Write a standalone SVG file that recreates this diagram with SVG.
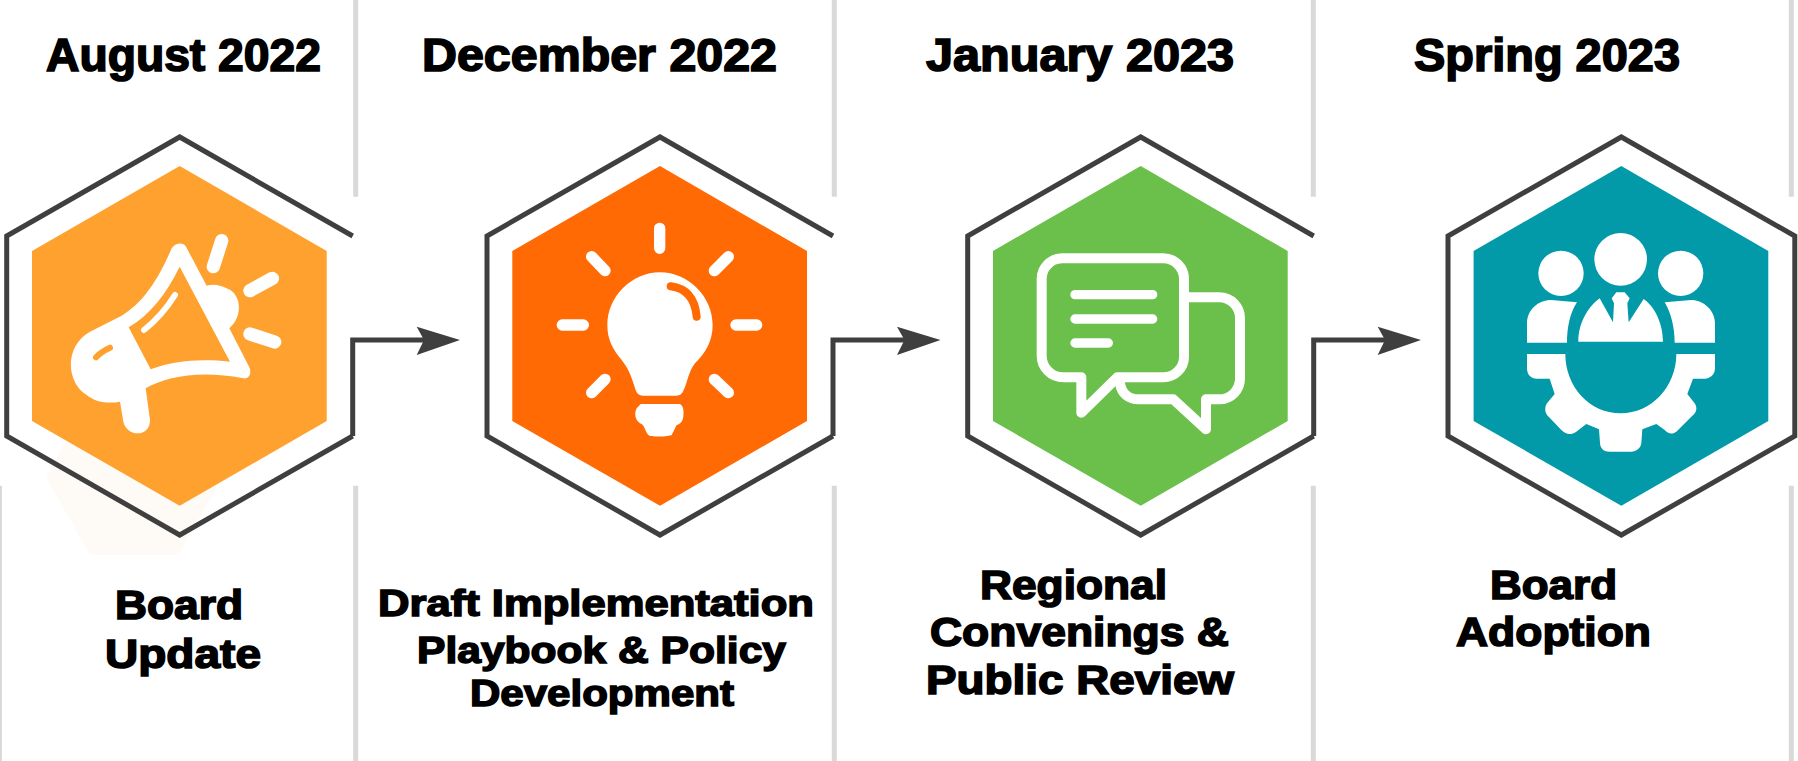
<svg xmlns="http://www.w3.org/2000/svg" width="1798" height="761" viewBox="0 0 1798 761">
<style>
.bg{fill:#fff}
.div{stroke:#d9d9d9;stroke-width:5;fill:none}
.out{stroke:#3f3f3f;stroke-width:5;fill:none;stroke-linejoin:miter}
.con{stroke:#3f3f3f;stroke-width:5;fill:none}
.head{fill:#3f3f3f}
text{font-family:"Liberation Sans",Arial,sans-serif;font-weight:700;fill:#000;stroke:#000}
.h{font-size:47px;stroke-width:1.7}
.b{font-size:41px;stroke-width:1.6}
.c{font-size:37px;stroke-width:1.5}
.w{fill:#fff}
.wl{stroke:#fff;fill:none;stroke-linecap:round;stroke-linejoin:round}
</style>
<defs>
<polygon id="inner" points="0,166 147,251 147,421 0,505.7 -147.7,421 -147.7,251"/>
<path id="open" d="M173,236 L0,137 L-173,236 V436 L0,535 L173,436"/>
</defs>
<rect class="bg" width="1798" height="761"/>
<g id="dividers">
<path class="div" d="M355.7 0V196.7M355.7 485.7V761M834.3 0V196.7M834.3 485.7V761M1313.3 0V196.7M1313.3 485.7V761M1791.3 0V196.7M1791.3 485.7V761"/>
<path class="div" style="stroke-width:2" d="M1 485.7V761"/>
</g>
<g id="node-august">
<polygon points="66,440 46.7,478 90,555 178,555 217,487" fill="#fefbf7"/>
<use href="#open" x="179.7" class="out"/>
<use href="#inner" x="179.7" fill="#ffa12e"/>
<g transform="translate(0,120) scale(.33333)">
<path class="w" fill-rule="evenodd" d="M515,385 C470,490 420,560 350,595 L270,635 C190,680 200,790 260,825 C290,850 330,850 360,845 L370,905 C380,950 450,955 450,900 L437,805 C500,770 600,750 730,775 C750,778 755,755 748,742 L688,625 C730,590 725,520 680,505 C660,495 640,492 620,497 L558,380 C550,368 530,366 515,385 Z M539,440 C500,520 450,585 386,622 L452,748 C520,722 600,715 690,725 Z"/>
<path class="wl" stroke-width="18" d="M525,525 C500,565 470,600 432,630"/>
<path d="M288,712 C300,698 315,690 330,683" stroke="#ffa12e" stroke-width="18" stroke-linecap="round" fill="none"/>
<path class="wl" stroke-width="40" d="M665,362 L640,440"/>
<path class="wl" stroke-width="40" d="M750,512 L817,475"/>
<path class="wl" stroke-width="40" d="M750,642 L824,666"/>
</g>
<text class="h" x="46" y="70.5" textLength="275" lengthAdjust="spacingAndGlyphs">August 2022</text>
<text class="b" x="115" y="619" textLength="128" lengthAdjust="spacingAndGlyphs">Board</text>
<text class="b" x="105" y="668" textLength="156" lengthAdjust="spacingAndGlyphs">Update</text>
</g>
<g id="node-december">
<use href="#open" x="660" class="out"/>
<use href="#inner" x="660" fill="#ff6a04"/>
<g transform="translate(480,120) scale(.33333)">
<path class="wl" stroke-width="34" d="M539,325V385M335,410L375,452M745,410L703,452M247,615H310M768,615H830M335,818L375,778M745,818L703,778"/>
<path class="w" d="M540,457 C625,457 698,530 698,615 C698,665 675,700 645,730 C625,755 622,790 610,812 C605,825 595,827 585,827 L490,827 C475,827 470,820 465,805 C455,770 445,745 425,720 C400,690 382,660 382,615 C382,530 455,457 540,457 Z"/>
<path d="M572,499 C620,505 645,535 650,590" stroke="#ff6a04" stroke-width="24" stroke-linecap="round" fill="none"/>
<path class="w" d="M482,852 L598,852 C610,855 612,870 610,890 C608,905 600,912 590,915 L575,945 C570,950 510,952 505,945 C495,935 495,915 480,910 C465,900 462,880 470,865 Z"/>
</g>
<text class="h" x="422" y="70.5" textLength="355" lengthAdjust="spacingAndGlyphs">December 2022</text>
<text class="c" x="378" y="616" textLength="436" lengthAdjust="spacingAndGlyphs">Draft Implementation</text>
<text class="c" x="417" y="663" textLength="369" lengthAdjust="spacingAndGlyphs">Playbook &amp; Policy</text>
<text class="c" x="470" y="706" textLength="264" lengthAdjust="spacingAndGlyphs">Development</text>
</g>
<g id="node-january">
<use href="#open" x="1140.7" class="out"/>
<use href="#inner" x="1140.7" fill="#6bbf4b"/>
<g transform="translate(960,120) scale(.33333)">
<path class="wl" stroke-width="30" d="M672,532 L778,532 A62,62 0 0 1 840,595 L840,775 A62,62 0 0 1 778,838 L738,838 L738,928 L640,838 L535,838 C505,838 485,820 480,790"/>
<path class="wl" stroke-width="30" d="M305,415 L610,415 A62,62 0 0 1 672,477 L672,710 A62,62 0 0 1 610,772 L472,772 L364,878 L364,772 L310,772 A65,65 0 0 1 245,707 L245,478 A62,62 0 0 1 305,415 Z"/>
<path class="wl" stroke-width="28" d="M345,524H578M345,597H578M345,669H445"/>
</g>
<text class="h" x="926" y="70.5" textLength="308" lengthAdjust="spacingAndGlyphs">January 2023</text>
<text class="b" x="980" y="598.6" textLength="187" lengthAdjust="spacingAndGlyphs">Regional</text>
<text class="b" x="930" y="645.6" textLength="299" lengthAdjust="spacingAndGlyphs">Convenings &amp;</text>
<text class="b" x="926" y="694" textLength="308" lengthAdjust="spacingAndGlyphs">Public Review</text>
</g>
<g id="node-spring">
<path class="out" d="M1794.8,236 L1621.3,137 L1448,236 V436 L1621.3,535 L1794.8,436 Z"/>
<use href="#inner" x="1621.3" fill="#0299a8"/>
<g transform="translate(1398,120) scale(.33333)" class="w">
<circle cx="668" cy="418" r="79"/>
<circle cx="489" cy="460" r="68"/>
<circle cx="848" cy="460" r="68"/>
<path d="M387,668 L387,610 C387,570 420,540 460,540 L537,547 C515,580 507,625 507,668 Z"/>
<path d="M951,668 L951,610 C951,570 915,540 880,540 L800,547 C820,580 830,625 830,668 Z"/>
<path d="M541,665 C541,610 570,560 605,535 L645,607 L648,550 L641,535 L655,517 L680,517 L695,535 L688,550 L692,607 L737,537 C770,560 795,610 795,665 Z"/>
<path d="M387,702 L502,702 C502,800 575,880 668,880 C760,880 835,800 835,702 L951,702 L951,745 C951,765 935,776 920,776 L885,776 L868,822 L890,850 C900,865 895,880 880,890 L835,935 C820,945 810,940 800,930 L775,912 L733,928 L730,970 C728,985 715,995 700,995 L635,995 C618,995 606,985 606,968 L603,928 L565,912 L535,935 C520,945 505,945 490,930 L447,885 C440,875 440,860 447,850 L470,822 L455,776 L415,776 C400,776 387,765 387,745 Z"/>
</g>
<text class="h" x="1414" y="70.5" textLength="266" lengthAdjust="spacingAndGlyphs">Spring 2023</text>
<text class="b" x="1490" y="598.6" textLength="127" lengthAdjust="spacingAndGlyphs">Board</text>
<text class="b" x="1456" y="645.6" textLength="195" lengthAdjust="spacingAndGlyphs">Adoption</text>
</g>
<g id="connectors">
<path class="con" d="M352.7,436V340H425"/>
<polygon class="head" points="416.7,326.7 460,340 416.7,355 424,340"/>
<path class="con" d="M833,436V340H905"/>
<polygon class="head" points="897,326.7 940.5,340 897,355 904.5,340"/>
<path class="con" d="M1313.7,436V340H1386"/>
<polygon class="head" points="1377.7,326.7 1421,340 1377.7,355 1385,340"/>
</g>
</svg>
